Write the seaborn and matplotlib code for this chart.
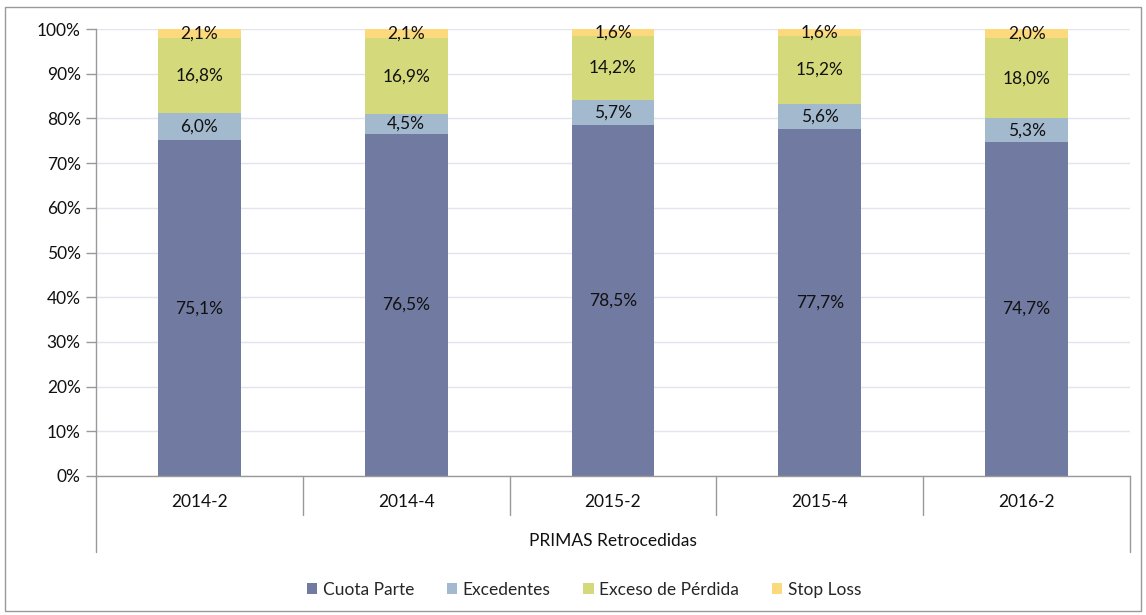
import numpy as np
import pandas as pd
import matplotlib
matplotlib.use("Agg")
import matplotlib.pyplot as plt
import matplotlib.transforms as mtransforms
from matplotlib.patches import Rectangle, Patch
from matplotlib.lines import Line2D
import seaborn as sns

# data (percent of ceded premiums)
periodos = ["2014-2", "2014-4", "2015-2", "2015-4", "2016-2"]
series = ["Cuota Parte", "Excedentes", "Exceso de Pérdida", "Stop Loss"]
cuota_parte = [75.1, 76.5, 78.5, 77.7, 74.7]
excedentes = [6.0, 4.5, 5.7, 5.6, 5.3]
exceso_perdida = [16.8, 16.9, 14.2, 15.2, 18.0]
stop_loss = [2.1, 2.1, 1.6, 1.6, 2.0]
grupo = "PRIMAS Retrocedidas"

colores = ["#717AA1", "#A2B9CE", "#D4DA7B", "#FCD97D"]

sns.set_theme(style="white")
plt.rcParams["font.family"] = ["Lato", "DejaVu Sans"]
FS = 12.5

valores = np.array([cuota_parte, excedentes, exceso_perdida, stop_loss])
tops = valores.cumsum(axis=0)
bottoms = tops - valores

df = pd.DataFrame({
    "Periodo": np.tile(periodos, len(series)),
    "Serie": np.repeat(series, len(periodos)),
    "top": tops.ravel(),
    "valor": valores.ravel(),
    "mid": (bottoms + valores / 2).ravel(),
})

fig = plt.figure(figsize=(11.46, 6.15), dpi=100)
W, H = 1146, 615
x0, x1, y0, y1 = 96, 1130, 29, 476
ax = fig.add_axes([x0 / W, 1 - y1 / H, (x1 - x0) / W, (y1 - y0) / H])

# stacked bars: draw cumulative heights from top series down
for s, c in reversed(list(zip(series, colores))):
    sub = df[df["Serie"] == s]
    sns.barplot(data=sub, x="Periodo", y="top", order=periodos, color=c,
                width=0.4, saturation=1, errorbar=None, linewidth=0, ax=ax)

for _, r in df.iterrows():
    xi = periodos.index(r["Periodo"])
    ax.text(xi, r["mid"], f"{r['valor']:.1f}".replace(".", ",") + "%",
            ha="center", va="center", fontsize=FS, color="#111111")

ax.set_ylim(0, 100)
ax.set_xlim(-0.5, len(periodos) - 0.5)
ax.set_yticks(np.arange(0, 101, 10))
ax.yaxis.set_major_formatter(matplotlib.ticker.FuncFormatter(lambda v, p: f"{v:.0f}%"))
ax.yaxis.grid(True, color="#E4E4EC", linewidth=1)
ax.set_axisbelow(True)
ax.set_xlabel("")
ax.set_ylabel("")
for side in ["top", "right"]:
    ax.spines[side].set_visible(False)
for side in ["left", "bottom"]:
    ax.spines[side].set_color("#999999")
    ax.spines[side].set_linewidth(1)
ax.tick_params(axis="y", left=True, length=7, width=1, color="#999999",
               labelsize=FS, labelcolor="#111111", pad=4)
ax.tick_params(axis="x", length=0, labelsize=FS, labelcolor="#111111", pad=13)

# multi-level category axis separators
trans = mtransforms.blended_transform_factory(ax.transData, fig.transFigure)
for i, b in enumerate(np.arange(-0.5, len(periodos), 1.0)):
    bottom_px = 552 if i in (0, len(periodos)) else 515
    ax.add_line(Line2D([b, b], [1 - y1 / H, 1 - bottom_px / H], transform=trans,
                       color="#999999", linewidth=1, clip_on=False))
fig.text((x0 + x1) / 2 / W, 1 - 541 / H, grupo, ha="center", va="center",
         fontsize=FS, color="#111111")

handles = [Patch(facecolor=c, edgecolor="none") for c in colores]
fig.legend(handles, series, loc="center", bbox_to_anchor=(584 / W, 1 - 590 / H),
           ncol=4, frameon=False, fontsize=FS, handlelength=0.6, handleheight=0.6,
           handletextpad=0.3, columnspacing=1.9)

fig.patches.append(Rectangle((5 / W, 1 - 611 / H), 1136 / W, 604 / H,
                             transform=fig.transFigure, fill=False,
                             edgecolor="#999999", linewidth=1))

fig.savefig("out.png", dpi=100)
